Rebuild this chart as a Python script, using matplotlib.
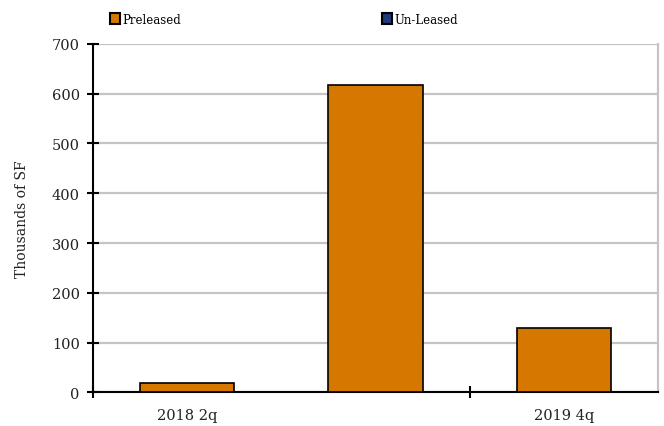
import numpy as np
import matplotlib.pyplot as plt
from matplotlib.patches import Patch

# Space delivered by quarter (thousands of SF)
quarters = ["2018 2q", "", "2019 4q"]
preleased = [20, 617, 130]
unleased = [0, 0, 0]

orange = "#D67800"
navy = "#1F3B78"

plt.rcParams["font.family"] = "DejaVu Serif"
plt.rcParams["font.size"] = 10.5

fig = plt.figure(figsize=(6.64, 4.27), dpi=100)
ax = fig.add_axes([0.140, 0.0785, 0.851, 0.8168])

x = np.arange(len(quarters))
ax.bar(x, preleased, width=0.5, color=orange, edgecolor="black", linewidth=1.2, zorder=3)
ax.bar(x, unleased, width=0.5, bottom=preleased, color=navy, edgecolor="black",
       linewidth=0, zorder=3)

ax.set_xlim(-0.5, len(quarters) - 0.5)
ax.set_ylim(0, 700)
ax.set_yticks(np.arange(0, 701, 100))
ax.yaxis.grid(True, color="#C4C4C4", linewidth=1.6, zorder=0)

# tick marks every two categories, labels on the category centres
ax.set_xticks([-0.5, 1.5])
ax.set_xticklabels([])
ax.set_xticks(x[::2], minor=True)
ax.set_xticklabels(quarters[::2], minor=True, color="#222222")
ax.tick_params(axis="x", which="minor", length=0, pad=11)
ax.tick_params(axis="x", which="major", direction="inout", length=9, width=1.5)
ax.tick_params(axis="y", direction="inout", length=9, width=1.5, pad=5, labelcolor="#222222")

for side in ["left", "bottom"]:
    ax.spines[side].set_linewidth(1.5)
    ax.spines[side].set_color("black")
ax.spines["right"].set_color("#C4C4C4")
ax.spines["right"].set_linewidth(1.6)
ax.spines["top"].set_visible(False)

ax.set_ylabel("Thousands of SF", labelpad=16, fontsize=10, color="#222222")

handles = [Patch(facecolor=orange, edgecolor="black", linewidth=1.5),
           Patch(facecolor=navy, edgecolor="black", linewidth=1.5)]
fig.legend(handles, ["Preleased", "Un-Leased"], ncol=2, loc="center left",
           bbox_to_anchor=(0.166, 0.953), frameon=False, fontsize=8.5,
           handlelength=0.85, handleheight=1.0, handletextpad=0.2,
           columnspacing=17.0, borderpad=0, borderaxespad=0)

fig.savefig("out.png", dpi=100)
